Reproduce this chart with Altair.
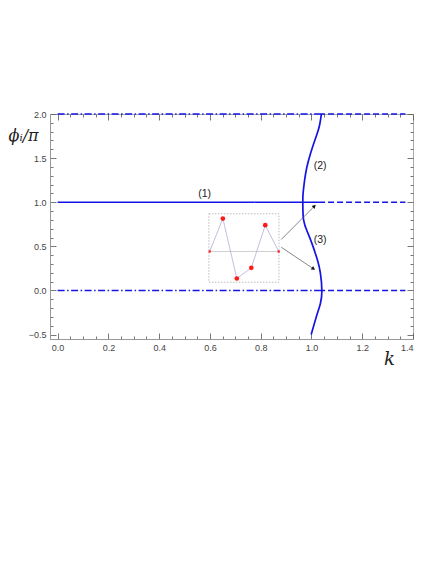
import altair as alt
import pandas as pd
import numpy as np

# ---- data ----
# curve (2)/(3): k as a function of phi_i/pi
curve_phi = [-0.5, -0.3, -0.15, 0.0, 0.2, 0.35, 0.5, 0.65, 0.8, 1.0, 1.1, 1.25, 1.4, 1.55, 1.7, 1.85, 2.0]
curve_k = [0.999, 1.019, 1.035, 1.041, 1.035, 1.023, 1.006, 0.986, 0.969, 0.966, 0.967, 0.973, 0.982, 0.996, 1.013, 1.030, 1.039]

# horizontal branches
seg_y = [1.0, 1.0, 0.0, 0.0, 2.0, 2.0]
seg_x0 = [0.0, 1.03, 0.0, 1.03, 0.0, 1.03]
seg_x1 = [1.03, 1.37, 1.03, 1.37, 1.03, 1.37]
seg_style = ["solid", "dashed", "dashdot", "dashed", "dashdot", "dashed"]

# inset (in main-axis units)
inset_x0, inset_x1 = [0.596], [0.872]
inset_y0, inset_y1 = [0.094], [0.869]
inset_mid = [0.442]
inset_px = [0.599, 0.651, 0.706, 0.763, 0.818, 0.871]
inset_py = [0.442, 0.815, 0.136, 0.257, 0.740, 0.442]
inset_kind = ["end", "pt", "pt", "pt", "pt", "end"]

# arrows
arrow_x0 = [0.881, 0.881]
arrow_y0 = [0.578, 0.490]
arrow_x1 = [1.010, 1.006]
arrow_y1 = [0.951, 0.249]
arrow_angle = [45, 124]

# labels
lab_text = ["(1)", "(2)", "(3)"]
lab_x = [0.579, 1.034, 1.034]
lab_y = [1.088, 1.41, 0.567]

# axes
x_major = [0.0, 0.2, 0.4, 0.6, 0.8, 1.0, 1.2, 1.4]
y_major = [-0.5, 0.0, 0.5, 1.0, 1.5, 2.0]
x_ticks = [round(v, 2) for v in np.arange(0.0, 1.4001, 0.05)]
y_ticks = [round(v, 2) for v in np.arange(-0.5, 2.0001, 0.1)]

W, H = 363, 225
XDOM = [-0.03, 1.4]
YDOM = [-0.55, 2.0]

BLUE = "#1414e6"
FONT = "Liberation Sans"

x_axis = alt.Axis(
    values=x_ticks,
    labelExpr="abs(datum.value*5-round(datum.value*5))<0.001 ? format(datum.value,'.1f') : ''",
    labelOverlap=False,
    ticks=False,
    grid=True,
    gridDash={"condition": {"test": "abs(datum.value*5-round(datum.value*5))<0.001",
                            "value": [6, H - 12, 6, 1000]},
              "value": [3, H - 6, 3, 1000]},
    gridColor="#555555",
    gridWidth=0.8,
    domainColor="#999999",
    labelPadding=4,
    labelFont=FONT,
    labelFontSize=9,
    labelColor="#444444",
    title="k",
    titleFont="DejaVu Serif",
    titleFontStyle="italic",
    titleFontWeight="normal",
    titleFontSize=18,
    titleColor="#222222",
    titleX=339,
    titleY=20,
    titleAlign="center",
    titleBaseline="middle",
)

y_axis = alt.Axis(
    values=y_ticks,
    labelExpr="abs(datum.value*2-round(datum.value*2))<0.001 ? format(datum.value,'.1f') : ''",
    labelOverlap=False,
    ticks=False,
    grid=True,
    gridDash={"condition": {"test": "abs(datum.value*2-round(datum.value*2))<0.001",
                            "value": [6, W - 12, 6, 1000]},
              "value": [3, W - 6, 3, 1000]},
    gridColor="#555555",
    gridWidth=0.8,
    domainColor="#999999",
    labelPadding=4,
    labelFont=FONT,
    labelFontSize=9,
    labelColor="#444444",
    title="ϕᵢ/π",
    titleFont="DejaVu Serif",
    titleFontStyle="italic",
    titleFontWeight="normal",
    titleFontSize=16,
    titleColor="#222222",
    titleAngle=0,
    titleX=-42,
    titleY=21,
    titleAlign="left",
    titleBaseline="middle",
)

xs = alt.Scale(domain=XDOM, nice=False, zero=False)
ys = alt.Scale(domain=YDOM, nice=False, zero=False)


def X(f):
    return alt.X(f, type="quantitative", scale=xs, axis=x_axis)


def Y(f):
    return alt.Y(f, type="quantitative", scale=ys, axis=y_axis)


seg_df = pd.DataFrame({"y": seg_y, "x0": seg_x0, "x1": seg_x1, "style": seg_style})
curve_df = pd.DataFrame({"phi": curve_phi, "k": curve_k, "o": list(range(len(curve_phi)))})
box_df = pd.DataFrame({"x0": inset_x0, "x1": inset_x1, "y0": inset_y0, "y1": inset_y1, "ym": inset_mid})
pts_df = pd.DataFrame({"x": inset_px, "y": inset_py, "kind": inset_kind, "o": list(range(len(inset_px)))})
arr_df = pd.DataFrame({"x0": arrow_x0, "y0": arrow_y0, "x1": arrow_x1, "y1": arrow_y1, "ang": arrow_angle})
lab_df = pd.DataFrame({"t": lab_text, "x": lab_x, "y": lab_y})

segs = alt.Chart(seg_df).mark_rule(color=BLUE, strokeWidth=1.5, strokeCap="butt").encode(
    x=X("x0"), x2="x1", y=Y("y"),
    strokeDash=alt.StrokeDash("style:N", scale=alt.Scale(
        domain=["solid", "dashed", "dashdot"],
        range=[[1, 0], [6, 3], [7, 2.5, 1.5, 2.5]]), legend=None),
)

curve = alt.Chart(curve_df).mark_line(color=BLUE, strokeWidth=1.7, interpolate="natural").encode(
    x=X("k"), y=Y("phi"), order="o:Q"
)

box = alt.Chart(box_df).mark_rect(fill=None, stroke="#aaaaaa", strokeWidth=0.8, strokeDash=[1.5, 1.5]).encode(
    x=X("x0"), x2="x1", y=Y("y0"), y2="y1"
)
mid = alt.Chart(box_df).mark_rule(color="#c4c4c4", strokeWidth=0.8).encode(
    x=X("x0"), x2="x1", y=Y("ym")
)
poly = alt.Chart(pts_df).mark_line(color="#b0b0d8", strokeWidth=0.8).encode(
    x=X("x"), y=Y("y"), order="o:Q"
)
dots = alt.Chart(pts_df).transform_filter("datum.kind == 'pt'").mark_point(
    filled=True, color="#ff1a1a", size=22, opacity=1
).encode(x=X("x"), y=Y("y"))
ends = alt.Chart(pts_df).transform_filter("datum.kind == 'end'").mark_point(
    filled=True, shape="square", color="#ff1a1a", size=5, opacity=1
).encode(x=X("x"), y=Y("y"))

arr_lines = alt.Chart(arr_df).mark_rule(color="#555555", strokeWidth=0.7).encode(
    x=X("x0"), x2="x1", y=Y("y0"), y2="y1"
)
arr_heads = alt.Chart(arr_df).mark_point(
    filled=True, shape="triangle", color="#111111", size=18, opacity=1
).encode(x=X("x1"), y=Y("y1"), angle=alt.Angle("ang:Q", scale=None))

labels = alt.Chart(lab_df).mark_text(font=FONT, fontSize=10.5, color="#222222").encode(
    x=X("x"), y=Y("y"), text="t:N"
)

chart = alt.layer(
    box, mid, poly, dots, ends, segs, curve, arr_lines, arr_heads, labels
).properties(
    width=W, height=H,
    autosize=alt.AutoSizeParams(type="none"),
    padding={"left": 42, "top": 106, "right": 12, "bottom": 40},
).configure_view(stroke="#aaaaaa", strokeWidth=1)

chart.save("out.html", embed_options={"renderer": "svg", "actions": False})
